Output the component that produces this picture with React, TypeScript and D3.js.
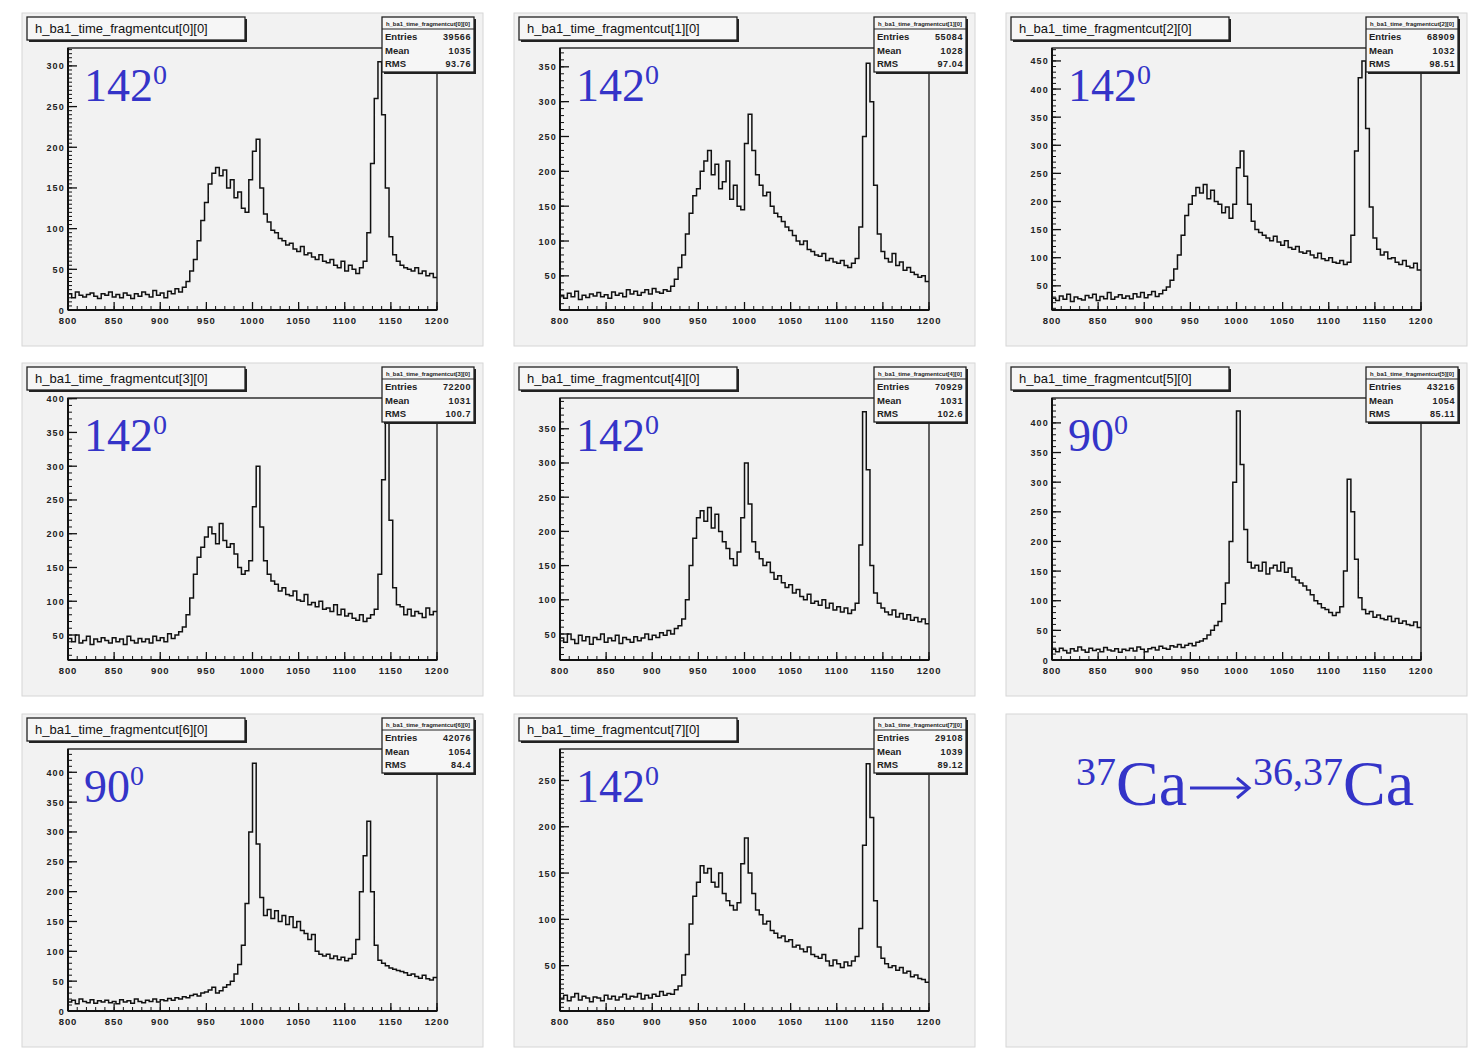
import React from 'react';
import * as d3 from 'd3';

const BIN_START = 800;
const BIN_WIDTH = 4;
const X_DOMAIN = [800, 1200];
const X_TICKS = [800, 850, 900, 950, 1000, 1050, 1100, 1150, 1200];

const TITLES = [
  'h_ba1_time_fragmentcut[0][0]',
  'h_ba1_time_fragmentcut[1][0]',
  'h_ba1_time_fragmentcut[2][0]',
  'h_ba1_time_fragmentcut[3][0]',
  'h_ba1_time_fragmentcut[4][0]',
  'h_ba1_time_fragmentcut[5][0]',
  'h_ba1_time_fragmentcut[6][0]',
  'h_ba1_time_fragmentcut[7][0]',
];
const ENTRIES = ['39566', '55084', '68909', '72200', '70929', '43216', '42076', '29108'];
const MEANS = ['1035', '1028', '1032', '1031', '1031', '1054', '1054', '1039'];
const RMS = ['93.76', '97.04', '98.51', '100.7', '102.6', '85.11', '84.4', '89.12'];
const ANGLES = ['142', '142', '142', '142', '142', '90', '90', '142'];
const Y_MIN = [0, 1, 7, 13, 12, 0, 0, 1];
const Y_MAX = [322, 377, 473, 401, 395, 442, 439, 284];
const Y_MINOR = [5, 10, 10, 10, 10, 10, 10, 5];

// bin contents, 4-unit bins from 800 to 1200
const H0 = [
  20, 15, 22, 18, 16, 19, 21, 17, 14, 20,
  18, 22, 16, 19, 15, 21, 18, 14, 20, 17,
  22, 19, 16, 24, 18, 21, 15, 23, 20, 26,
  22, 28, 35, 48, 62, 85, 110, 132, 155, 168,
  175, 165, 172, 150, 160, 138, 145, 125, 120, 160,
  195, 210, 150, 118, 108, 98, 95, 88, 85, 80,
  82, 75, 72, 78, 68, 70, 65, 62, 68, 60,
  58, 62, 55, 52, 60, 48, 55, 50, 45, 52,
  60, 95, 180, 260, 305, 240, 150, 90, 68, 60,
  55, 52, 50, 48, 52, 45, 48, 42, 45, 40,
];
const H1 = [
  22, 18, 25, 20, 28, 16, 22, 19, 24, 21,
  26, 20, 23, 18, 27, 22, 25, 20, 30, 24,
  28, 22, 26, 30, 24, 32, 27, 25, 30, 28,
  35, 45, 62, 80, 110, 140, 165, 175, 200, 215,
  230, 195, 210, 175, 185, 215, 160, 180, 150, 145,
  240, 282, 230, 195, 180, 165, 170, 150, 140, 135,
  128, 120, 115, 108, 100, 95, 100, 88, 85, 80,
  78, 82, 72, 75, 70, 68, 72, 65, 62, 68,
  75, 120, 250, 355, 300, 180, 110, 85, 75, 70,
  82, 65, 70, 58, 62, 55, 52, 48, 50, 42,
];
const H2 = [
  28, 24, 32, 26, 35, 22, 30, 27, 25, 33,
  29, 35, 24, 31, 27, 38, 26, 30, 34, 28,
  32, 27, 36, 30, 38, 29, 34, 40, 31, 36,
  42, 48, 60, 80, 105, 140, 175, 195, 210, 225,
  215, 230, 205, 220, 200, 195, 180, 190, 170, 195,
  260, 290, 245, 195, 165, 150, 145, 140, 135, 130,
  138, 128, 122, 130, 118, 115, 120, 110, 108, 112,
  105, 100, 108, 98, 95, 100, 92, 90, 95, 88,
  92, 140, 290, 420, 450, 330, 190, 135, 115, 105,
  110, 98, 100, 92, 88, 95, 85, 82, 90, 78,
];
const H3 = [
  45, 40, 50, 38, 42, 48, 36, 44, 40, 46,
  42, 38, 46, 40, 44, 36, 48, 42, 38, 45,
  40, 44, 38, 48, 42, 46, 40, 52, 45, 50,
  55, 62, 80, 105, 140, 165, 180, 195, 210, 200,
  185, 215, 190, 180, 185, 170, 150, 140, 145, 160,
  240, 300, 210, 160, 140, 130, 125, 115, 120, 110,
  108, 115, 102, 100, 110, 95, 98, 92, 100, 88,
  90, 85, 95, 80, 88, 78, 82, 75, 72, 80,
  70, 75, 80, 88, 140, 280, 385, 220, 120, 95,
  92, 80, 88, 78, 85, 82, 76, 90, 80, 85,
];
const H4 = [
  44, 38, 50, 42, 36, 48, 40, 46, 35, 45,
  42, 50, 38, 44, 40, 48, 36, 45, 42, 38,
  46, 40, 44, 50, 42, 48, 45, 52, 48, 55,
  50, 58, 62, 72, 100, 150, 190, 220, 230, 215,
  235, 205, 225, 200, 185, 175, 160, 150, 170, 220,
  300, 240, 185, 170, 160, 150, 155, 140, 130, 135,
  125, 118, 122, 110, 115, 105, 100, 108, 95, 98,
  92, 100, 88, 95, 85, 90, 82, 88, 80, 85,
  95, 180, 375, 290, 150, 110, 95, 88, 82, 78,
  85, 75, 80, 72, 78, 70, 74, 68, 72, 65,
];
const H5 = [
  18, 14, 20, 16, 12, 19, 15, 22, 17, 13,
  20, 16, 18, 14, 21, 17, 15, 19, 13, 18,
  16, 20, 15, 22, 18, 14, 19, 21, 17, 23,
  20, 18, 24, 22, 26, 21, 25, 28, 24, 30,
  32, 36, 42, 50, 58, 65, 95, 130, 200, 300,
  420, 330, 220, 165, 155, 160, 150, 165, 145, 155,
  160, 150, 165, 148, 155, 140, 135, 130, 125, 118,
  110, 100, 95, 88, 85, 80, 75, 80, 90, 150,
  305, 250, 170, 105, 85, 78, 82, 72, 76, 70,
  68, 74, 65, 70, 62, 66, 60, 58, 64, 55,
];
const H6 = [
  15, 18, 12, 20, 16, 14, 19, 13, 17, 15,
  18, 14, 16, 12, 19, 15, 17, 13, 20, 16,
  14, 18, 16, 20, 15, 19, 17, 21, 18, 22,
  20, 24, 22, 26, 28, 25, 30, 32, 35, 40,
  30, 34, 40, 44, 50, 62, 78, 110, 180, 300,
  415, 280, 190, 160, 170, 155, 168, 150, 160, 145,
  158, 140, 150, 135, 130, 120, 128, 100, 95, 92,
  95, 88, 92, 86, 90, 84, 88, 95, 120, 200,
  260, 318, 200, 110, 85, 80, 76, 72, 70, 68,
  66, 64, 60, 62, 58, 55, 60, 54, 52, 56,
];
const H7 = [
  14, 18, 12, 16, 20, 13, 17, 15, 11, 16,
  15, 12, 18, 14, 17, 13, 16, 19, 14, 17,
  16, 20, 14, 18, 15, 19, 17, 22, 18, 20,
  19, 24, 28, 40, 62, 95, 125, 140, 158, 150,
  155, 140, 135, 150, 128, 120, 115, 110, 118, 160,
  188, 150, 128, 110, 105, 95, 98, 88, 85, 80,
  82, 76, 78, 70, 72, 68, 65, 70, 62, 60,
  58, 62, 55, 50, 56, 52, 48, 54, 50, 55,
  60, 90, 180, 268, 210, 120, 70, 58, 52, 48,
  50, 45, 48, 42, 44, 38, 40, 36, 35, 32,
];
const HISTS = [H0, H1, H2, H3, H4, H5, H6, H7];

const COL_OFF = [0, 492, 984];
const ROW_OFF = [0, 350, 701];
const BLUE = '#3434c8';
const SANS = '"Liberation Sans", Arial, Helvetica, sans-serif';
const SERIF = '"Liberation Serif", "Times New Roman", serif';

function Panel({ idx }: { idx: number }) {
  const co = COL_OFF[idx % 3];
  const ro = ROW_OFF[Math.floor(idx / 3)];
  const fx0 = 68 + co, fx1 = 437 + co, fy0 = 48 + ro, fy1 = 310 + ro;
  const x = d3.scaleLinear().domain(X_DOMAIN).range([fx0, fx1]);
  const y = d3.scaleLinear().domain([Y_MIN[idx], Y_MAX[idx]]).range([fy1, fy0]);
  const vals = HISTS[idx];
  const pts: [number, number][] = vals.map((v, i) => [BIN_START + i * BIN_WIDTH, v]);
  pts.push([X_DOMAIN[1], vals[vals.length - 1]]);
  const line = d3.line<[number, number]>().x(d => x(d[0])).y(d => y(d[1])).curve(d3.curveStepAfter);
  const yMajor = d3.range(Math.ceil(Y_MIN[idx] / 50) * 50, Y_MAX[idx] + 0.01, 50);
  const yMinor = d3.range(Math.ceil(Y_MIN[idx] / Y_MINOR[idx]) * Y_MINOR[idx], Y_MAX[idx] + 0.01, Y_MINOR[idx]);
  const xMinor = d3.range(800, 1200.01, 10);
  const clipId = `clip${idx}`;
  return (
    <g>
      <rect x={22 + co} y={13 + ro} width={461} height={333} fill="#f2f2f2" stroke="#d6d6d6" strokeWidth={1} />
      <clipPath id={clipId}>
        <rect x={fx0} y={fy0} width={fx1 - fx0} height={fy1 - fy0} />
      </clipPath>
      <path d={line(pts) || ''} fill="none" stroke="#111" strokeWidth={1.5} clipPath={`url(#${clipId})`} />
      {/* frame */}
      <rect x={fx0} y={fy0} width={fx1 - fx0} height={fy1 - fy0} fill="none" stroke="#111" strokeWidth={1.3} />
      <line x1={fx0} x2={fx0} y1={fy0} y2={fy1} stroke="#111" strokeWidth={2} />
      <line x1={fx0} x2={fx1} y1={fy1} y2={fy1} stroke="#111" strokeWidth={2} />
      {/* y ticks */}
      {yMinor.map(v => (
        <line key={'ym' + v} x1={fx0} x2={fx0 + 4} y1={y(v)} y2={y(v)} stroke="#111" strokeWidth={1} />
      ))}
      {yMajor.map(v => (
        <g key={'yM' + v}>
          <line x1={fx0} x2={fx0 + 9} y1={y(v)} y2={y(v)} stroke="#111" strokeWidth={1.3} />
          <text x={fx0 - 3} y={y(v) + 3.5} textAnchor="end" fontFamily={SANS} fontWeight="bold" fontSize={9} letterSpacing={1.2} fill="#222">{v}</text>
        </g>
      ))}
      {/* x ticks */}
      {xMinor.map(v => (
        <line key={'xm' + v} x1={x(v)} x2={x(v)} y1={fy1} y2={fy1 - 4} stroke="#111" strokeWidth={1} />
      ))}
      {X_TICKS.map(v => (
        <g key={'xM' + v}>
          <line x1={x(v)} x2={x(v)} y1={fy1} y2={fy1 - 8} stroke="#111" strokeWidth={1.3} />
          <text x={x(v)} y={fy1 + 14} textAnchor="middle" fontFamily={SANS} fontWeight="bold" fontSize={9.5} letterSpacing={0.9} fill="#222">{v}</text>
        </g>
      ))}
      {/* title box */}
      <rect x={29 + co} y={19 + ro} width={218} height={23} fill="#222" />
      <rect x={27 + co} y={17 + ro} width={218} height={23} fill="#f6f6f6" stroke="#222" strokeWidth={1.3} />
      <text x={35 + co} y={33 + ro} fontFamily={SANS} fontSize={13} fill="#111">{TITLES[idx]}</text>
      {/* stats box */}
      <rect x={384 + co} y={19 + ro} width={92} height={55} fill="#222" />
      <rect x={382 + co} y={17 + ro} width={92} height={55} fill="#f6f6f6" stroke="#222" strokeWidth={1.3} />
      <line x1={382 + co} x2={474 + co} y1={29 + ro} y2={29 + ro} stroke="#222" strokeWidth={1} />
      <text x={428 + co} y={26 + ro} textAnchor="middle" fontFamily={SANS} fontWeight="bold" fontSize={5} fill="#222" textLength={84} lengthAdjust="spacingAndGlyphs">{TITLES[idx]}</text>
      {[['Entries', ENTRIES[idx]], ['Mean', MEANS[idx]], ['RMS', RMS[idx]]].map(([k, v], i) => (
        <g key={k}>
          <text x={385 + co} y={40 + ro + i * 13.5} fontFamily={SANS} fontWeight="bold" fontSize={9.5} fill="#222">{k}</text>
          <text x={471 + co} y={40 + ro + i * 13.5} textAnchor="end" fontFamily={SANS} fontWeight="bold" fontSize={9} letterSpacing={0.6} fill="#222">{v}</text>
        </g>
      ))}
      {/* angle label */}
      <text x={84 + co} y={101 + ro} fontFamily={SERIF} fontSize={46} fill={BLUE}>
        {ANGLES[idx]}
        <tspan fontSize={28} dy={-17}>0</tspan>
      </text>
    </g>
  );
}

export default function App() {
  return (
    <div style={{ position: 'absolute', left: 0, top: 0 }}>
      <svg width={1470} height={1051} viewBox="0 0 1470 1051" style={{ display: 'block', background: '#fff' }}>
        {TITLES.map((_, i) => (
          <Panel key={i} idx={i} />
        ))}
        <rect x={1006} y={714} width={461} height={333} fill="#f2f2f2" stroke="#d6d6d6" strokeWidth={1} />
        <text x={1076} y={805} fontFamily={SERIF} fontSize={64} fill={BLUE}>
          <tspan fontSize={40} dy={-20}>37</tspan>
          <tspan dy={20}>Ca</tspan>
        </text>
        <line x1={1190} x2={1248} y1={788} y2={788} stroke={BLUE} strokeWidth={3} />
        <polyline points="1237,778 1249,788 1237,798" fill="none" stroke={BLUE} strokeWidth={3} strokeLinejoin="miter" />
        <text x={1253} y={805} fontFamily={SERIF} fontSize={64} fill={BLUE}>
          <tspan fontSize={40} dy={-20}>36,37</tspan>
          <tspan dy={20}>Ca</tspan>
        </text>
      </svg>
    </div>
  );
}
